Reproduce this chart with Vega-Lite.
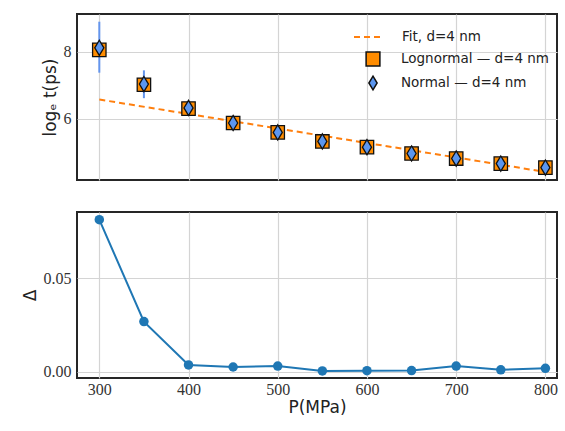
{
  "$schema": "https://vega.github.io/schema/vega-lite/v6.json",
  "padding": {"left": 20, "top": 13, "right": 8, "bottom": 5},
  "spacing": 30,
  "config": {
    "view": {"stroke": "#262626", "strokeWidth": 2},
    "axis": {
      "labelFont": "Liberation Serif", "labelFontSize": 16, "labelColor": "#333",
      "titleFont": "DejaVu Sans", "titleFontSize": 17, "titleFontWeight": "normal", "titleColor": "#222",
      "ticks": false, "domain": false, "gridColor": "#d4d4d4", "gridWidth": 1.2, "labelPadding": 6
    },
    "legend": {"labelFont": "DejaVu Sans", "labelFontSize": 13.5, "labelColor": "#222"}
  },
  "datasets": {
    "fit": [
      {"P": 300, "t": 6.58}, {"P": 800, "t": 4.42}
    ],
    "pts": [
      {"P": 300, "series": "Lognormal — d=4 nm", "t": 8.06},
      {"P": 350, "series": "Lognormal — d=4 nm", "t": 7.02},
      {"P": 400, "series": "Lognormal — d=4 nm", "t": 6.31},
      {"P": 450, "series": "Lognormal — d=4 nm", "t": 5.88},
      {"P": 500, "series": "Lognormal — d=4 nm", "t": 5.6},
      {"P": 550, "series": "Lognormal — d=4 nm", "t": 5.33},
      {"P": 600, "series": "Lognormal — d=4 nm", "t": 5.16},
      {"P": 650, "series": "Lognormal — d=4 nm", "t": 4.97},
      {"P": 700, "series": "Lognormal — d=4 nm", "t": 4.82},
      {"P": 750, "series": "Lognormal — d=4 nm", "t": 4.67},
      {"P": 800, "series": "Lognormal — d=4 nm", "t": 4.55},
      {"P": 300, "series": "Normal — d=4 nm", "t": 8.12, "lo": 7.38, "hi": 8.9},
      {"P": 350, "series": "Normal — d=4 nm", "t": 7.04, "lo": 6.62, "hi": 7.45},
      {"P": 400, "series": "Normal — d=4 nm", "t": 6.33, "lo": 6.2, "hi": 6.48},
      {"P": 450, "series": "Normal — d=4 nm", "t": 5.88, "lo": 5.8, "hi": 5.96},
      {"P": 500, "series": "Normal — d=4 nm", "t": 5.6, "lo": 5.53, "hi": 5.67},
      {"P": 550, "series": "Normal — d=4 nm", "t": 5.33, "lo": 5.27, "hi": 5.39},
      {"P": 600, "series": "Normal — d=4 nm", "t": 5.16, "lo": 5.11, "hi": 5.21},
      {"P": 650, "series": "Normal — d=4 nm", "t": 4.97, "lo": 4.92, "hi": 5.02},
      {"P": 700, "series": "Normal — d=4 nm", "t": 4.82, "lo": 4.77, "hi": 4.87},
      {"P": 750, "series": "Normal — d=4 nm", "t": 4.67, "lo": 4.62, "hi": 4.72},
      {"P": 800, "series": "Normal — d=4 nm", "t": 4.55, "lo": 4.5, "hi": 4.6}
    ],
    "delta": [
      {"P": 300, "d": 0.0814},
      {"P": 350, "d": 0.0268},
      {"P": 400, "d": 0.0036},
      {"P": 450, "d": 0.0025},
      {"P": 500, "d": 0.003},
      {"P": 550, "d": 0.0004},
      {"P": 600, "d": 0.0005},
      {"P": 650, "d": 0.0006},
      {"P": 700, "d": 0.003},
      {"P": 750, "d": 0.001},
      {"P": 800, "d": 0.0018}
    ]
  },
  "vconcat": [
    {
      "width": 480, "height": 166,
      "layer": [
        {
          "data": {"name": "fit"},
          "mark": {"type": "line", "color": "#ff7f0e", "strokeWidth": 2},
          "encoding": {
            "x": {"field": "P", "type": "quantitative", "scale": {"domain": [275, 813], "nice": false, "zero": false},
                  "axis": {"values": [300, 400, 500, 600, 700, 800], "labels": false, "title": null}},
            "y": {"field": "t", "type": "quantitative", "scale": {"domain": [4.18, 9.13], "nice": false, "zero": false},
                  "axis": {"values": [6, 8], "title": "logₑ t(ps)"}},
            "strokeDash": {"datum": "Fit, d=4 nm", "type": "nominal", "scale": {"range": [[6, 4]]},
                           "legend": {"title": null, "orient": "none", "legendX": 276, "legendY": 7, "padding": 0,
                                      "symbolType": "stroke", "symbolSize": 900, "symbolStrokeWidth": 2, "symbolStrokeColor": "#ff7f0e", "labelOffset": 17}}
          }
        },
        {
          "data": {"name": "pts"},
          "transform": [{"filter": "datum.lo != null"}],
          "mark": {"type": "rule", "color": "#6495ed", "strokeWidth": 2},
          "encoding": {
            "x": {"field": "P", "type": "quantitative"},
            "y": {"field": "lo", "type": "quantitative"},
            "y2": {"field": "hi"}
          }
        },
        {
          "data": {"name": "pts"},
          "mark": {"type": "point", "filled": true, "stroke": "#111", "strokeWidth": 1.3, "opacity": 1},
          "encoding": {
            "x": {"field": "P", "type": "quantitative"},
            "y": {"field": "t", "type": "quantitative"},
            "size": {"condition": {"test": "datum.series === 'Normal — d=4 nm'", "value": 230}, "value": 180},
            "fill": {"field": "series", "type": "nominal",
                     "scale": {"domain": ["Lognormal — d=4 nm", "Normal — d=4 nm"], "range": ["#ff8c00", "#5b96ef"]},
                     "legend": {"title": null, "orient": "none", "legendX": 288, "legendY": 37, "padding": 0, "rowPadding": 4, "labelOffset": 20, "symbolSize": 190}},
            "shape": {"field": "series", "type": "nominal",
                      "scale": {"domain": ["Lognormal — d=4 nm", "Normal — d=4 nm"], "range": ["square", "M0,-1L0.6,0L0,1L-0.6,0Z"]},
                      "legend": {"title": null, "orient": "none", "legendX": 288, "legendY": 37, "padding": 0, "rowPadding": 4, "labelOffset": 20, "symbolSize": 190}}
          }
        }
      ]
    },
    {
      "width": 480, "height": 166,
      "data": {"name": "delta"},
      "layer": [
        {
          "mark": {"type": "line", "color": "#1f77b4", "strokeWidth": 2},
          "encoding": {
            "x": {"field": "P", "type": "quantitative", "scale": {"domain": [275, 813], "nice": false, "zero": false},
                  "axis": {"values": [300, 400, 500, 600, 700, 800], "title": "P(MPa)", "titlePadding": 2, "labelPadding": 3}},
            "y": {"field": "d", "type": "quantitative", "scale": {"domain": [-0.0034, 0.0855], "nice": false, "zero": false},
                  "axis": {"values": [0, 0.05], "format": ".2f", "title": "Δ"}}
          }
        },
        {
          "mark": {"type": "point", "filled": true, "color": "#1f77b4", "size": 90, "opacity": 1},
          "encoding": {
            "x": {"field": "P", "type": "quantitative"},
            "y": {"field": "d", "type": "quantitative"}
          }
        }
      ]
    }
  ]
}
